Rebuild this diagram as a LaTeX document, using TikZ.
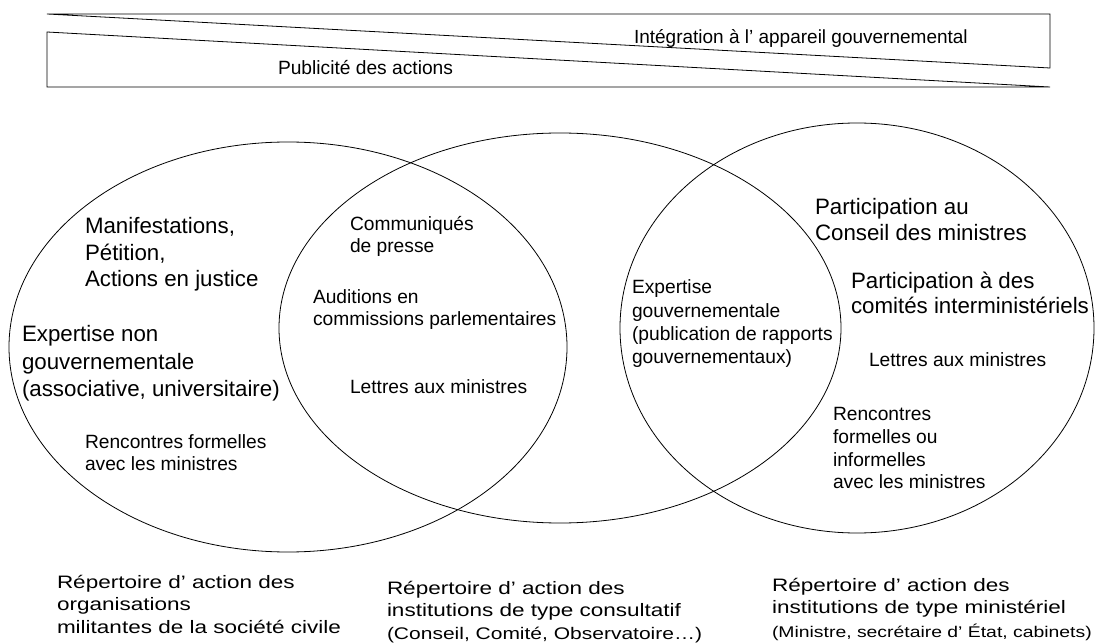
\documentclass[tikz,border=0pt]{standalone}
\usepackage{fontspec}
\setmainfont{Liberation Sans}
\newfontfamily\widefont[FakeStretch=1.25]{Liberation Sans}
\usetikzlibrary{shapes.geometric}
\newcommand\blk[3]{\vtop{\fontsize{#1}{#2}\selectfont\lineskiplimit=-30pt\lineskip=0pt #3}}
\newcommand\lineitem[1]{\hbox{#1}}
\tikzset{
  venn/.style={draw, ellipse, inner sep=0pt, line width=0.8pt},
  wedge/.style={draw, line width=0.8pt, line join=miter},
  txt/.style={anchor=base west, inner sep=0pt, outer sep=0pt},
  captxt/.style={txt, font=\widefont},
}
\begin{document}
\begin{tikzpicture}[x=1pt, y=-1pt]
\useasboundingbox (0,0) rectangle (1095,644);
% top wedges
\coordinate (ua) at (47,14);
\coordinate (ub) at (1050,14);
\coordinate (uc) at (1050,68);
\coordinate (la) at (47,32);
\coordinate (lb) at (1050,87);
\coordinate (lc) at (47,87);
\draw[wedge] (ua) -- (ub) -- (uc) -- cycle;
\draw[wedge] (la) -- (lb) -- (lc) -- cycle;
\node[txt] (integ) at (634,44) {\fontsize{19}{22}\selectfont Intégration à l’ appareil gouvernemental};
\node[txt] (publ) at (278,74.7) {\fontsize{19.2}{22}\selectfont Publicité des actions};
% ellipses
\node[venn, minimum width=558pt, minimum height=410pt] (civ) at (288,347) {};
\node[venn, minimum width=562pt, minimum height=390pt] (cons) at (560,328) {};
\node[venn, minimum width=474pt, minimum height=410pt] (mini) at (857,328) {};
% left ellipse texts
\node[txt] (t1) at (85,233.7) {\blk{22.3}{26.5}{\lineitem{Manifestations,}\lineitem{Pétition,}\lineitem{Actions en justice}}};
\node[txt] (t2) at (22,341.7) {\blk{22.3}{27.5}{\lineitem{Expertise non}\lineitem{gouvernementale}\lineitem{(associative, universitaire)}}};
\node[txt] (t3) at (85,448.8) {\blk{19.2}{22}{\lineitem{Rencontres formelles}\lineitem{avec les ministres}}};
% middle texts
\node[txt] (t4) at (350,230.8) {\blk{19.2}{22}{\lineitem{Communiqués}\lineitem{de presse}}};
\node[txt] (t5) at (313,303.8) {\blk{19.2}{22}{\lineitem{Auditions en}\lineitem{commissions parlementaires}}};
\node[txt] (t6) at (350,393.8) {\blk{19.2}{22}{\lineitem{Lettres aux ministres}}};
% middle-right overlap
\node[txt] (t7) at (632,293.8) {\blk{19.2}{23.3}{\lineitem{Expertise}\lineitem{gouvernementale}\lineitem{(publication de rapports}\lineitem{gouvernementaux)}}};
% right texts
\node[txt] (t8) at (815,214.7) {\blk{22.3}{26}{\lineitem{Participation au}\lineitem{Conseil des ministres}}};
\node[txt] (t9) at (851,288.7) {\blk{22.3}{25}{\lineitem{Participation à des}\lineitem{comités interministériels}}};
\node[txt] (t10) at (869,366.8) {\blk{19.2}{22}{\lineitem{Lettres aux ministres}}};
\node[txt] (t11) at (833,420.8) {\blk{19.2}{22.7}{\lineitem{Rencontres}\lineitem{formelles ou}\lineitem{informelles}\lineitem{avec les ministres}}};
% bottom captions
\node[captxt] (c1) at (57,588) {\blk{18}{22.5}{\lineitem{Répertoire d’ action des}\lineitem{organisations}\lineitem{militantes de la société civile}}};
\node[captxt] (c2) at (387,594) {\blk{18}{22.5}{\lineitem{Répertoire d’ action des}\lineitem{institutions de type consultatif}\lineitem{\fontsize{16.8}{22.5}\selectfont(Conseil, Comité, Observatoire…)}}};
\node[captxt] (c3) at (772,591) {\blk{18}{22.5}{\lineitem{Répertoire d’ action des}\lineitem{institutions de type ministériel}\baselineskip=23.5pt\lineitem{\fontsize{15.5}{23.5}\selectfont(Ministre, secrétaire d’ État, cabinets)}}};
\end{tikzpicture}
\end{document}
